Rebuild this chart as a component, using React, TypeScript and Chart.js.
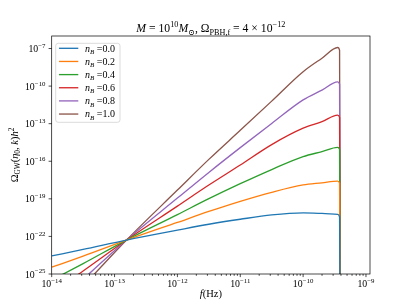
import React, { useEffect, useRef } from 'react';
import { Chart, registerables } from 'chart.js';

Chart.register(...registerables);

const FONT = '"Liberation Serif", "DejaVu Serif", serif';

// log10 of frequency f (Hz) at which each curve was read
const logFreq = [-14, -13.5, -12.81, -12, -11.5, -11, -10.5, -10, -9.7, -9.45, -9.42, -9.41];

// log10 of Omega_GW(eta_0,k) h^2 for each n_B
const logOmega_nB00 = [-23.56, -23.04, -22.29, -21.5, -21.03, -20.63, -20.28, -20.12, -20.16, -20.24, -20.45, -30];
const logOmega_nB02 = [-24.46, -23.57, -22.29, -20.88, -20.01, -19.2, -18.48, -17.89, -17.72, -17.58, -17.75, -30];
const logOmega_nB04 = [-25.49, -24.17, -22.29, -20.26, -18.99, -17.79, -16.66, -15.63, -15.23, -14.89, -15.05, -30];
const logOmega_nB06 = [-26.48, -24.76, -22.29, -19.58, -17.9, -16.3, -14.67, -13.36, -12.84, -12.32, -12.5, -30];
const logOmega_nB08 = [-27.58, -25.41, -22.29, -18.94, -16.89, -14.91, -12.98, -11.1, -10.32, -9.66, -9.85, -30];
const logOmega_nB10 = [-28.47, -25.95, -22.29, -18.3, -15.85, -13.53, -11.2, -8.85, -7.77, -6.92, -7.15, -30];

const seriesLabels = ['0.0', '0.2', '0.4', '0.6', '0.8', '1.0'];
const seriesValues = [logOmega_nB00, logOmega_nB02, logOmega_nB04, logOmega_nB06, logOmega_nB08, logOmega_nB10];
const seriesColors = ['#1f77b4', '#ff7f0e', '#2ca02c', '#d62728', '#9467bd', '#8c564b'];

const xTickExps = [-14, -13, -12, -11, -10, -9];
const yTickExps = [-25, -22, -19, -16, -13, -10, -7];
const xMinExp = -14;
const xMaxExp = -8.936;
const yMinExp = -25;
const yMaxExp = -6.0;

type Seg = { t: string; it?: boolean; sup?: boolean; sub?: boolean };

function richWidth(ctx: CanvasRenderingContext2D, segs: Seg[], size: number) {
  let w = 0;
  for (const s of segs) {
    const sz = s.sup || s.sub ? size * 0.7 : size;
    ctx.font = `${s.it ? 'italic ' : ''}${sz}px ${FONT}`;
    w += ctx.measureText(s.t).width;
  }
  return w;
}

function drawRich(ctx: CanvasRenderingContext2D, segs: Seg[], x: number, y: number, size: number, align: 'left' | 'center' | 'right') {
  const w = richWidth(ctx, segs, size);
  let cx = align === 'left' ? x : align === 'center' ? x - w / 2 : x - w;
  ctx.textAlign = 'left';
  ctx.textBaseline = 'alphabetic';
  for (const s of segs) {
    const sz = s.sup || s.sub ? size * 0.7 : size;
    ctx.font = `${s.it ? 'italic ' : ''}${sz}px ${FONT}`;
    const dy = s.sup ? -size * 0.42 : s.sub ? size * 0.22 : 0;
    ctx.fillText(s.t, cx, y + dy);
    cx += ctx.measureText(s.t).width;
  }
}

const pow10Label = (e: number): Seg[] => [{ t: '10' }, { t: String(e).replace('-', '\u2212'), sup: true }];

const overlayPlugin = {
  id: 'mplOverlay',
  beforeDraw(chart: any) {
    const ctx = chart.ctx as CanvasRenderingContext2D;
    ctx.save();
    ctx.fillStyle = '#ffffff';
    ctx.fillRect(0, 0, chart.width, chart.height);
    ctx.restore();
  },
  afterDraw(chart: any) {
    const ctx = chart.ctx as CanvasRenderingContext2D;
    const { left, right, top, bottom } = chart.chartArea;
    const xs = chart.scales.x;
    const ys = chart.scales.y;
    ctx.save();
    ctx.fillStyle = '#000';
    ctx.strokeStyle = '#000';
    ctx.lineWidth = 0.71;

    // frame
    ctx.strokeRect(left, top, right - left, bottom - top);

    // x ticks (major + minor)
    for (let e = -14; e <= -9; e++) {
      for (let m = 1; m <= 9; m++) {
        const v = m * Math.pow(10, e);
        if (v > Math.pow(10, xMaxExp)) continue;
        const px = xs.getPixelForValue(v);
        const len = m === 1 ? 3.1 : 1.8;
        ctx.beginPath();
        ctx.moveTo(px, bottom);
        ctx.lineTo(px, bottom + len);
        ctx.stroke();
      }
    }
    for (const e of xTickExps) {
      const px = xs.getPixelForValue(Math.pow(10, e));
      drawRich(ctx, pow10Label(e), px, bottom + 13, 9.8, 'center');
    }

    // y ticks
    for (const e of yTickExps) {
      const py = ys.getPixelForValue(Math.pow(10, e));
      ctx.beginPath();
      ctx.moveTo(left, py);
      ctx.lineTo(left - 3.1, py);
      ctx.stroke();
      drawRich(ctx, pow10Label(e), left - 6.2, py + 3.6, 9.8, 'right');
    }

    // axis labels
    drawRich(ctx, [{ t: 'f', it: true }, { t: '(Hz)' }], (left + right) / 2, 297, 10.5, 'center');
    ctx.save();
    ctx.translate(18, (top + bottom) / 2);
    ctx.rotate(-Math.PI / 2);
    drawRich(
      ctx,
      [
        { t: '\u03A9' },
        { t: 'GW', sub: true },
        { t: '(' },
        { t: '\u03B7', it: true },
        { t: '0', sub: true },
        { t: ', ' },
        { t: 'k', it: true },
        { t: ')' },
        { t: 'h', it: true },
        { t: '2', sup: true },
      ],
      0,
      0,
      10.5,
      'center'
    );
    ctx.restore();

    // title
    drawRich(
      ctx,
      [
        { t: 'M', it: true },
        { t: ' = 10' },
        { t: '10', sup: true },
        { t: 'M', it: true },
        { t: '\u2299', sub: true },
        { t: ', \u03A9' },
        { t: 'PBH,f', sub: true },
        { t: ' = 4 \u00D7 10' },
        { t: '\u221212', sup: true },
      ],
      (left + right) / 2,
      32,
      11.7,
      'center'
    );

    // legend
    const lx = 55.7, ly = 43.3, lw = 64.3, lh = 79;
    ctx.save();
    ctx.globalAlpha = 0.8;
    ctx.fillStyle = '#ffffff';
    ctx.beginPath();
    (ctx as any).roundRect(lx, ly, lw, lh, 2.5);
    ctx.fill();
    ctx.restore();
    ctx.strokeStyle = '#cccccc';
    ctx.lineWidth = 0.71;
    ctx.beginPath();
    (ctx as any).roundRect(lx, ly, lw, lh, 2.5);
    ctx.stroke();
    seriesLabels.forEach((lab, i) => {
      const ry = 48.3 + i * 13.15;
      ctx.strokeStyle = seriesColors[i];
      ctx.lineWidth = 1.33;
      ctx.beginPath();
      ctx.moveTo(59, ry);
      ctx.lineTo(78.3, ry);
      ctx.stroke();
      ctx.fillStyle = '#000';
      drawRich(ctx, [{ t: 'n', it: true }, { t: 'B', it: true, sub: true }, { t: ' =' + lab }], 85, ry + 3.4, 10, 'left');
    });
    ctx.restore();
  },
};

export default function App() {
  const ref = useRef<HTMLCanvasElement | null>(null);
  useEffect(() => {
    document.body.style.margin = '0';
    const canvas = ref.current!;
    const chart = new Chart(canvas, {
      type: 'line',
      data: {
        datasets: seriesValues.map((vals, i) => ({
          label: 'n_B =' + seriesLabels[i],
          data: vals.map((v, j) => ({ x: Math.pow(10, logFreq[j]), y: Math.pow(10, v) })),
          borderColor: seriesColors[i],
          backgroundColor: seriesColors[i],
          borderWidth: 1.33,
          pointRadius: 0,
          fill: false,
          cubicInterpolationMode: 'monotone',
        })),
      },
      options: {
        responsive: false,
        animation: false,
        devicePixelRatio: 1,
        layout: { padding: { left: 51.7, right: 41, top: 36, bottom: 34 } },
        scales: {
          x: { type: 'logarithmic', display: false, min: Math.pow(10, xMinExp), max: Math.pow(10, xMaxExp) },
          y: { type: 'logarithmic', display: false, min: Math.pow(10, yMinExp), max: Math.pow(10, yMaxExp) },
        },
        plugins: {
          legend: { display: false },
          title: { display: false },
          tooltip: { enabled: false },
        },
        events: [],
      } as any,
      plugins: [overlayPlugin],
    });
    return () => chart.destroy();
  }, []);
  return (
    <div style={{ width: 411, height: 308 }}>
      <canvas ref={ref} width={411} height={308} style={{ display: 'block' }} />
    </div>
  );
}
